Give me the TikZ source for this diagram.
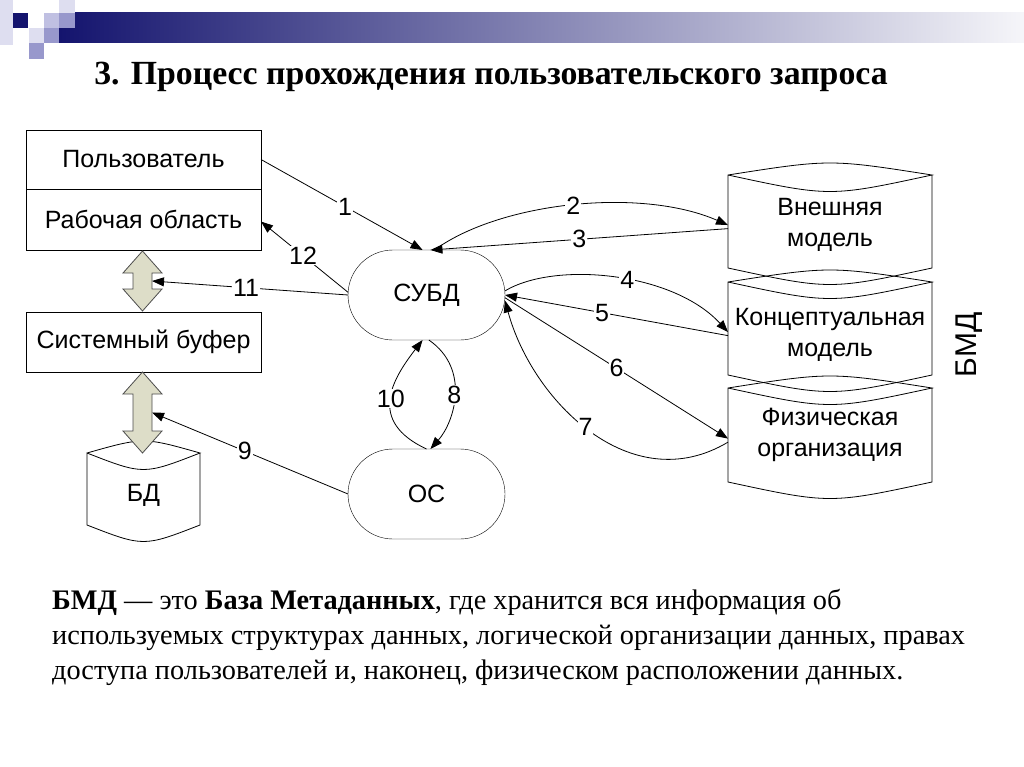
\documentclass[tikz,border=0pt]{standalone}
\usepackage{fontspec}
\setmainfont{Liberation Serif}
\newfontfamily\diagfont{Liberation Sans}
\usetikzlibrary{arrows.meta, calc}

\definecolor{navy}{RGB}{20,20,110}
\definecolor{olivegray}{RGB}{221,221,200}
\definecolor{lav1}{RGB}{222,222,240}
\definecolor{lav2}{RGB}{192,192,226}
\definecolor{lav3}{RGB}{152,152,204}

\tikzset{
  txt/.style={font=\diagfont\fontsize{25}{31}\selectfont},
  box/.style={txt, draw, minimum width=235pt, minimum height=60pt, outer sep=0pt},
  oval/.style={txt, draw, rounded corners=45pt, minimum width=157pt, minimum height=90pt, outer sep=0pt},
  drumbox/.style={minimum width=#1, outer sep=0pt, inner sep=0pt},
  drumbox/.default=204pt,
  drumtext/.style={txt, align=center},
  lbl/.style={txt, fill=white, inner sep=1pt},
  link/.style={-{Triangle[length=12pt,width=9pt]}, line width=0.8pt}
}

\newcommand{\drum}[1]{%
  \draw[line width=0.8pt] (#1.north west) .. controls ($(#1.north)+(0,-16)$) .. (#1.north east)
    .. controls ($(#1.north)+(0,22)$) .. (#1.north west) -- (#1.south west)
    .. controls ($(#1.south)+(0,22)$) .. (#1.south east) -- (#1.north east);}

\newcommand{\fatarrow}[4]{%
  \draw[draw=black!70, fill=olivegray, line width=0.8pt] (#2,#3) -- (#2+19.5,#3+22) -- (#2+9.5,#3+22)
    -- (#2+9.5,#4-22) -- (#2+19.5,#4-22) -- (#2,#4) -- (#2-19.5,#4-22) -- (#2-9.5,#4-22)
    -- (#2-9.5,#3+22) -- (#2-19.5,#3+22) -- cycle;
  \coordinate (#1) at (#2+9.5,{(#3+#4)/2});}

\begin{document}
\begin{tikzpicture}[x=1pt, y=-1pt]
    \useasboundingbox (0,0) rectangle (1024,767);

    \fill[lav1] (0,0) rectangle (13,45);
    \shade[left color=navy, right color=white!96!navy] (59,13) rectangle (1024,43);
    \fill[navy] (13,13) rectangle (28,28);
    \fill[lav2] (44,13) rectangle (59,28);
    \fill[lav1] (59,0) rectangle (75,13);
    \fill[lav3] (59,13) rectangle (75,28);
    \fill[lav1] (29,28) rectangle (44,43);
    \fill[lav3] (44,28) rectangle (59,43);
    \fill[lav3] (29,43) rectangle (44,59);

    \node[anchor=base] (title) at (491,85) {\bfseries\fontsize{33.8}{38}\selectfont 3. Процесс прохождения пользовательского запроса};

    \node[box, minimum height=59pt] (user) at (143.5,159.5) {Пользователь};
    \node[box, minimum height=61pt] (work) at (143.5,219.5) {Рабочая область};
    \node[box] (buf) at (143.5,342) {Системный буфер};
    \node[drumbox=113pt, minimum height=72pt, label={[drumtext, yshift=-6pt]center:БД}] (db) at (143.5,489) {};
    \drum{db}

    \fatarrow{ar1}{142.5}{251}{311}
    \fatarrow{ar2}{142.5}{372}{453}

    \node[oval] (dbms) at (426.5,295) {СУБД};
    \node[oval] (os) at (426.5,494) {ОС};

    \node[drumbox, minimum height=93pt, label={[drumtext, yshift=-3pt]center:{Внешняя\\модель}}] (ext) at (830,221.5) {};
    \node[drumbox, minimum height=93pt, label={[drumtext, yshift=-6pt]center:{Концептуальная\\модель}}] (conc) at (830,328.5) {};
    \node[drumbox, minimum height=94pt, label={[drumtext]center:{Физическая\\организация}}] (phys) at (830,435) {};
    \drum{ext}
    \drum{conc}
    \drum{phys}

    \node[rotate=90, font=\diagfont\fontsize{30}{34}\selectfont] (bmd) at (969,345) {БМД};

    \draw[link] (user.east) -- node[lbl, pos=0.52] {1} (dbms.95);
    \draw[link] (dbms.80) .. controls +(66,-48) and +(-87,-38) .. node[lbl, pos=0.5] {2} (ext.182);
    \draw[link] (ext.184) -- node[lbl, pos=0.5] {3} (dbms.85);
    \draw[link] (dbms.3) .. controls +(50,-30) and +(-55,-60) .. node[lbl, pos=0.55] {4} (conc.182);
    \draw[link] (conc.184) -- node[lbl, pos=0.565] {5} (dbms.0);
    \draw[link] (dbms.-2) -- node[lbl, pos=0.5] {6} (phys.182);
    \draw[link] (phys.184) .. controls +(-97,58) and +(27,100) .. node[lbl, pos=0.52] {7} (dbms.-4);
    \draw[link] (dbms.-87) .. controls +(42,29) and +(24,-27) .. node[lbl, pos=0.5] {8} (os.85);
    \draw[link] (os.west) -- node[lbl, pos=0.526] {9} (ar2);
    \draw[link] (os.90) .. controls +(-60,-28) and +(-30,39) .. node[lbl, pos=0.5] {10} (dbms.-95);
    \draw[link] (dbms.west) -- node[lbl, pos=0.52] {11} (ar1);
    \draw[link] (dbms.178) -- node[lbl, pos=0.517] {12} (work.-1);

    \node[anchor=north west, align=left, inner sep=0pt, font=\fontsize{28.3}{35}\selectfont] (note) at (52,589)
      {\textbf{БМД} — это \textbf{База Метаданных}, где хранится вся информация об\\
       используемых структурах данных, логической организации данных, правах\\
       доступа пользователей и, наконец, физическом расположении данных.};
\end{tikzpicture}
\end{document}
